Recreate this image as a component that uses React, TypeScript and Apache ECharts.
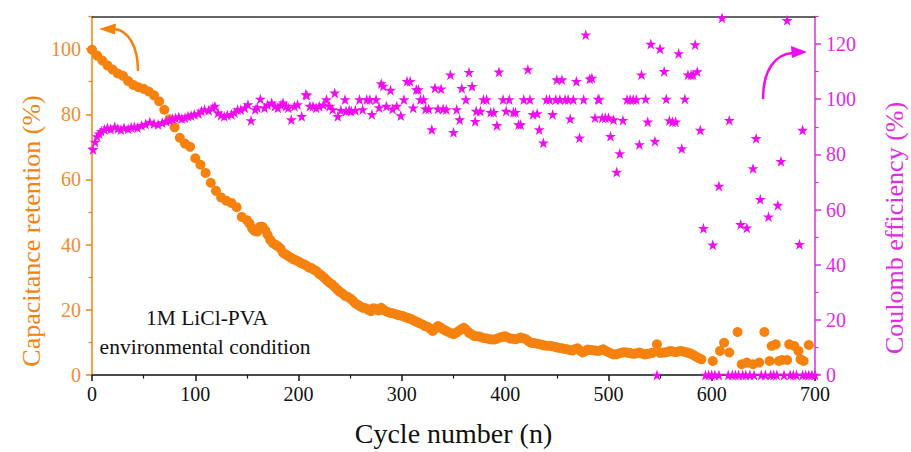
import React, { useEffect, useRef } from "react";
import * as echarts from "echarts";

const ORANGE = "#F5820F";
const ORANGE_LABEL = "#F08C30";
const MAGENTA = "#F00CF0";
const MAGENTA_AXIS = "#E02CE0";
const FONT = "Liberation Serif";

const xTicks = [0, 100, 200, 300, 400, 500, 600, 700];
const xMinorTicks = [50, 150, 250, 350, 450, 550, 650];
const leftTicks = [0, 20, 40, 60, 80, 100];
const leftMinorTicks = [10, 30, 50, 70, 90, 110];
const rightTicks = [0, 20, 40, 60, 80, 100, 120];
const rightMinorTicks = [10, 30, 50, 70, 90, 110, 130];

// Capacitance retention (%) vs cycle
const retention: [number, number][] = [
  [0, 99.8], [5, 98], [10, 96.5], [15, 95], [20, 93.7], [25, 92.5], [30, 91.8], [35, 90.2],
  [40, 89], [45, 88.3], [50, 87.8], [55, 87], [60, 85.8], [65, 84], [70, 81.4], [75, 78.5],
  [80, 76], [85, 72.8], [90, 71], [95, 70], [100, 66.5], [105, 64.5], [110, 62], [115, 59],
  [120, 56.5], [125, 54.5], [130, 53.5], [135, 52.8], [140, 51.5], [145, 48.5], [150, 47.5],
  [155, 45], [160, 44], [165, 45.5], [170, 43], [175, 40.5], [180, 39.5], [185, 37.5],
  [190, 36.5], [195, 35.5], [200, 34.8], [205, 34], [210, 33], [215, 32.3], [220, 31],
  [225, 29.8], [230, 28.3], [235, 27], [240, 25.5], [245, 24.3], [250, 23.5], [255, 22],
  [260, 21], [265, 20.5], [270, 19.6], [275, 20.2], [280, 20.6], [285, 19.5], [290, 19],
  [295, 18.6], [300, 18.2], [305, 17.6], [310, 17], [315, 16.2], [320, 15.5], [325, 14.8],
  [330, 13.5], [335, 15], [340, 14], [345, 13.2], [350, 12.5], [355, 13.5], [360, 14.5],
  [365, 13], [370, 12], [375, 11.8], [380, 11.3], [385, 11], [390, 10.9], [395, 11.5],
  [400, 11.9], [405, 11.2], [410, 11], [415, 11.5], [420, 11], [425, 9.9], [430, 9.7],
  [435, 9.3], [440, 9], [445, 8.9], [450, 8.5], [455, 8.2], [460, 7.9], [465, 7.5],
  [470, 8.2], [475, 6.9], [480, 7.8], [485, 7.6], [490, 7.4], [495, 7.9], [500, 7],
  [505, 6.3], [510, 6.6], [515, 7], [520, 6.8], [525, 6.5], [530, 6.9], [535, 6.3],
  [540, 6.6], [547, 9.4], [550, 6.8], [555, 6.9], [560, 7.4], [565, 7], [570, 7.4],
  [575, 7], [580, 6.5], [585, 5.6], [590, 4.8], [601, 4.3], [608, 7.4], [612, 9.9],
  [617, 6.9], [625, 13.2], [629, 3.3], [634, 3.8], [640, 3.3], [646, 3.8], [651, 13.2],
  [656, 4.3], [658, 8.9], [662, 9.4], [665, 4.3], [668, 4.6], [673, 4.6], [675, 9.4],
  [680, 8.9], [684, 7.4], [686, 4.8], [689, 4.3], [694, 9.2],
];

// Additional retention readings between the ones above (dense band, 150-590)
const retentionExtra: [number, number][] = [
  [152.5, 46.5], [157.5, 44.2], [162.5, 45.5], [167.5, 44.5], [172.5, 41.5], [177.5, 40],
  [182.5, 38.8], [187.5, 37], [192.5, 36], [197.5, 35.2], [202.5, 34.3], [207.5, 33.6],
  [212.5, 32.8], [217.5, 31.8], [222.5, 30.5], [227.5, 29], [232.5, 27.8], [237.5, 26.2],
  [242.5, 25], [247.5, 24], [252.5, 22.8], [257.5, 21.5], [262.5, 20.6], [267.5, 20],
  [272.5, 20.5], [277.5, 19.8], [282.5, 20], [287.5, 19.2], [292.5, 18.8], [297.5, 18.3],
  [302.5, 17.9], [307.5, 17.3], [312.5, 16.6], [317.5, 15.8], [322.5, 15], [327.5, 14.2],
  [332.5, 14.3], [337.5, 14.6], [342.5, 13.6], [347.5, 12.8], [352.5, 13], [357.5, 14],
  [362.5, 13.8], [367.5, 12.5], [372.5, 11.9], [377.5, 11.5], [382.5, 11.2], [387.5, 10.9],
  [392.5, 11.2], [397.5, 11.7], [402.5, 11.5], [407.5, 11.1], [412.5, 11.2], [417.5, 11.3],
  [422.5, 10.4], [427.5, 9.8], [432.5, 9.5], [437.5, 9.1], [442.5, 9], [447.5, 8.7],
  [452.5, 8.3], [457.5, 8], [462.5, 7.7], [467.5, 7.9], [472.5, 7.5], [477.5, 7.3],
  [482.5, 7.7], [487.5, 7.5], [492.5, 7.6], [497.5, 7.4], [502.5, 6.6], [507.5, 6.4],
  [512.5, 6.8], [517.5, 6.9], [522.5, 6.6], [527.5, 6.7], [532.5, 6.6], [537.5, 6.5],
  [542.5, 6.8], [552.5, 6.9], [557.5, 7.1], [562.5, 7.2], [567.5, 7.2], [572.5, 7.2],
  [577.5, 6.8], [582.5, 6.1], [587.5, 5.2],
];

// Coulomb efficiency (%) vs cycle
const efficiency: [number, number][] = [
  [1, 81.8], [3, 84.5], [5, 86.5], [7, 87.5], [9, 88.4], [12, 89], [15, 89.6], [18, 89.2],
  [22, 90], [25, 89.4], [28, 89], [31, 89.6], [35, 89.3], [38, 89.8], [41, 90], [44, 89.7],
  [48, 90.5], [52, 91], [56, 91.7], [60, 91.2], [64, 90.8], [68, 91.5], [72, 92], [75, 92.4],
  [78, 92.9], [81, 93.2], [84, 93.6], [87, 93], [90, 93.3], [93, 93.8], [96, 94.1], [99, 94.5],
  [103, 94.8], [106, 95.7], [109, 96.3], [113, 96], [117, 96.9], [119, 97.5], [122, 95.1],
  [125, 94.2], [128, 93.8], [131, 94.3], [135, 94.5], [138, 95.2], [141, 96.3], [144, 96.2],
  [148, 96.9], [151, 98.1], [154, 92.3], [158, 96.3], [160, 97], [163, 100.1], [167, 96.9],
  [170, 98], [174, 98.7], [177, 97.5], [180, 96.9], [183, 98], [185, 98.7], [188, 97.5],
  [190, 96.9], [193, 92.6], [196, 97.5], [199, 98.1], [203, 93.8], [207, 101.7], [208, 101.5],
  [211, 97.5], [214, 97.5], [217, 96.9], [220, 97.5], [224, 98], [227, 99.9], [230, 97.5],
  [233, 96.3], [235, 102.3], [238, 93.8], [241, 96], [245, 99.9], [246, 95.7], [249, 96],
  [251, 95.7], [255, 96], [259, 99.9], [262, 96.3], [266, 99.9], [269, 99.9], [271, 94.5],
  [275, 99.9], [278, 97], [280, 105.7], [282, 104.8], [285, 97.5], [289, 103.3], [291, 96.5],
  [295, 97.5], [299, 94.1], [302, 99.9], [305, 106.5], [308, 106.5], [311, 96.9], [314, 103.5],
  [316, 103.5], [318, 99.9], [321, 99.9], [323, 96.5], [326, 96.5], [329, 89], [332, 104.1],
  [335, 96.5], [338, 103.8], [340, 96.5], [343, 96.3], [347, 108.9], [350, 88], [353, 96.3],
  [356, 92.6], [358, 104], [362, 99.9], [365, 109.8], [368, 104.7], [371, 92], [372, 95.7],
  [376, 95.7], [379, 99.9], [382, 99.9], [386, 95.3], [389, 95.3], [392, 90.5], [394, 109.9],
  [398, 99.9], [401, 95.7], [404, 99.9], [408, 95.3], [410, 95.3], [413, 90.8], [415, 90.8],
  [418, 99.9], [422, 110.8], [424, 99.9], [427, 94.5], [431, 94.8], [433, 89], [437, 84.2],
  [440, 99.9], [443, 99.9], [446, 94.5], [449, 99.9], [450, 107.1], [453, 99.9], [455, 107.1],
  [458, 99.9], [461, 99.9], [463, 92.9], [466, 99.9], [469, 106.5], [472, 86], [476, 99.9],
  [478, 123.4], [482, 107.4], [484, 107.7], [487, 93.3], [490, 100.1], [491, 99.9], [494, 93.3],
  [497, 93.3], [500, 93.3], [502, 86.6], [505, 92.6], [508, 73.6], [511, 80.3], [514, 92.4],
  [518, 99.9], [521, 99.9], [524, 99.9], [527, 99.9], [530, 83.6], [532, 108.9], [536, 100.1],
  [538, 91.8], [541, 120], [545, 84.8], [547, 0], [550, 118.3], [554, 110.1], [556, 100.1],
  [559, 92.3], [562, 91.8], [565, 91.8], [568, 116.6], [571, 82.1], [574, 100.1], [577, 108.9],
  [580, 108.9], [582, 108.9], [584, 119.8], [586, 110], [589, 88.8], [592, 53.2], [594, 0],
  [597, 0], [600, 0], [601, 47.2], [603, 0], [607, 68.5], [607, 0], [610, 129.5], [616, 0],
  [617, 92.4], [620, 0], [623, 0], [626, 0], [628, 54.6], [630, 0], [633, 0], [634, 53.4],
  [637, 0], [640, 74.9], [641, 0], [643, 85.8], [647, 63.7], [648, 0], [652, 0], [655, 57.4],
  [657, 0], [660, 0], [663, 0], [664, 61.6], [667, 77.5], [670, 0], [673, 128.6], [676, 0],
  [679, 0], [682, 0], [685, 47.4], [688, 88.8], [688, 0], [691, 0], [694, 0], [697, 0], [700, 0],
];

const STAR =
  "path://M50,0 L61.2,34.5 L97.6,34.5 L68.2,55.9 L79.4,90.5 L50,69.1 L20.6,90.5 L31.8,55.9 L2.4,34.5 L38.8,34.5 Z";

export default function App() {
  const ref = useRef<HTMLDivElement>(null);
  useEffect(() => {
    if (!ref.current) return;
    const chart = echarts.init(ref.current, null, { renderer: "svg" });
    const labelBase = { fontFamily: FONT, fontSize: 20 };
    const noZero = { onZero: false };
    chart.setOption({
      animation: false,
      backgroundColor: "#ffffff",
      grid: { left: 92, right: 96, top: 16.5, bottom: 76, containLabel: false },
      xAxis: [
        {
          type: "value", min: 0, max: 700, interval: 100, position: "bottom",
          name: "Cycle number (n)", nameLocation: "middle", nameGap: 44,
          nameTextStyle: { fontFamily: FONT, fontSize: 28, color: "#111" },
          axisLine: { show: true, ...noZero, lineStyle: { color: "#111", width: 1.5 } },
          axisTick: { show: true, inside: false, length: 6, customValues: xTicks, lineStyle: { color: "#111", width: 1.5 } },
          axisLabel: { ...labelBase, color: "#111", margin: 9, customValues: xTicks },
          splitLine: { show: false },
        },
        {
          type: "value", min: 0, max: 700, position: "bottom",
          axisLine: { show: false, ...noZero },
          axisTick: { show: true, inside: false, length: 3.5, customValues: xMinorTicks, lineStyle: { color: "#111", width: 1.2 } },
          axisLabel: { show: false },
          splitLine: { show: false },
        },
        {
          type: "value", min: 0, max: 700, position: "top",
          axisLine: { show: true, ...noZero, lineStyle: { color: "#333", width: 1.5 } },
          axisTick: { show: false },
          axisLabel: { show: false },
          splitLine: { show: false },
        },
      ],
      yAxis: [
        {
          type: "value", min: 0, max: 110, interval: 10, position: "left",
          axisLine: { show: true, ...noZero, lineStyle: { color: ORANGE, width: 1.5 } },
          axisTick: { show: true, inside: false, length: 6, customValues: leftTicks, lineStyle: { color: ORANGE, width: 1.5 } },
          axisLabel: { ...labelBase, color: ORANGE_LABEL, margin: 11, customValues: leftTicks },
          splitLine: { show: false },
        },
        {
          type: "value", min: 0, max: 110, position: "left",
          axisLine: { show: false, ...noZero },
          axisTick: { show: true, inside: false, length: 3.5, customValues: leftMinorTicks, lineStyle: { color: ORANGE, width: 1.2 } },
          axisLabel: { show: false },
          splitLine: { show: false },
        },
        {
          type: "value", min: 0, max: 130, interval: 10, position: "right",
          axisLine: { show: true, ...noZero, lineStyle: { color: MAGENTA_AXIS, width: 1.5 } },
          axisTick: { show: true, inside: false, length: 6, customValues: rightTicks, lineStyle: { color: MAGENTA_AXIS, width: 1.5 } },
          axisLabel: { ...labelBase, color: MAGENTA_AXIS, margin: 11, customValues: rightTicks },
          splitLine: { show: false },
        },
        {
          type: "value", min: 0, max: 130, position: "right",
          axisLine: { show: false, ...noZero },
          axisTick: { show: true, inside: false, length: 3.5, customValues: rightMinorTicks, lineStyle: { color: MAGENTA_AXIS, width: 1.2 } },
          axisLabel: { show: false },
          splitLine: { show: false },
        },
      ],
      series: [
        {
          name: "Capacitance retention", type: "scatter", xAxisIndex: 0, yAxisIndex: 0,
          symbol: "circle", symbolSize: 10,
          itemStyle: { color: ORANGE, opacity: 1 },
          data: retention.concat(retentionExtra), z: 2,
        },
        {
          name: "Coulomb efficiency", type: "scatter", xAxisIndex: 0, yAxisIndex: 2,
          symbol: STAR, symbolSize: 11,
          itemStyle: { color: MAGENTA, opacity: 1 },
          data: efficiency, z: 3,
        },
      ],
      graphic: [
        {
          type: "text", x: 31, y: 231, rotation: Math.PI / 2,
          style: { text: "Capacitance retention (%)", font: `26px ${FONT}`, fill: ORANGE, align: "center", verticalAlign: "middle" },
        },
        {
          type: "text", x: 894, y: 228, rotation: Math.PI / 2,
          style: { text: "Coulomb efficiency (%)", font: `26px ${FONT}`, fill: MAGENTA_AXIS, align: "center", verticalAlign: "middle" },
        },
        {
          type: "text", x: 207, y: 318,
          style: { text: "1M LiCl-PVA", font: `21.5px ${FONT}`, fill: "#111", align: "center", verticalAlign: "middle" },
        },
        {
          type: "text", x: 205, y: 347,
          style: { text: "environmental condition", font: `21.5px ${FONT}`, fill: "#111", align: "center", verticalAlign: "middle" },
        },
        {
          type: "bezierCurve",
          shape: { x1: 138, y1: 71, x2: 114, y2: 29, cpx1: 138, cpy1: 46, cpx2: 128, cpy2: 30 },
          style: { stroke: ORANGE, lineWidth: 2.5, fill: null },
        },
        {
          type: "polygon",
          shape: { points: [[99, 29], [116, 23.5], [115, 34.5]] },
          style: { fill: ORANGE },
        },
        {
          type: "bezierCurve",
          shape: { x1: 763, y1: 99, x2: 793, y2: 53, cpx1: 763, cpy1: 70, cpx2: 775, cpy2: 54 },
          style: { stroke: MAGENTA, lineWidth: 2.5, fill: null },
        },
        {
          type: "polygon",
          shape: { points: [[807, 52], [791, 46], [792, 58]] },
          style: { fill: MAGENTA },
        },
      ],
    });
    return () => chart.dispose();
  }, []);
  return (
    <div
      ref={ref}
      style={{ position: "fixed", left: 0, top: 0, width: 911, height: 452, background: "#fff" }}
    />
  );
}
